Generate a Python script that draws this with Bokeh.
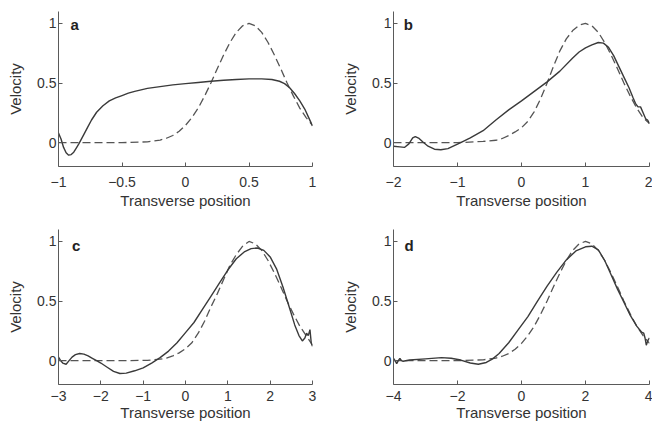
from bokeh.plotting import figure
from bokeh.layouts import column, row
from bokeh.models import Range1d, FixedTicker, Label
from bokeh.embed import file_html
from bokeh.resources import INLINE

# ---------------- data ----------------
y_ticks = [0, 0.5, 1]
y_tick_labels = ["0", "0.5", "1"]

xa_ticks = [-1, -0.5, 0, 0.5, 1]
xa_tick_labels = ["\u22121", "\u22120.5", "0", "0.5", "1"]
xb_ticks = [-2, -1, 0, 1, 2]
xb_tick_labels = ["\u22122", "\u22121", "0", "1", "2"]
xc_ticks = [-3, -2, -1, 0, 1, 2, 3]
xc_tick_labels = ["\u22123", "\u22122", "\u22121", "0", "1", "2", "3"]
xd_ticks = [-4, -2, 0, 2, 4]
xd_tick_labels = ["\u22124", "\u22122", "0", "2", "4"]

panel_letters = ["a", "b", "c", "d"]
x_label = "Transverse position"
y_label = "Velocity"

# panel a
a_solid_x = [-1.0, -0.98, -0.96, -0.94, -0.92, -0.90, -0.88, -0.86, -0.84, -0.82, -0.80, -0.77,
             -0.74, -0.70, -0.65, -0.60, -0.55, -0.50, -0.45, -0.40, -0.30, -0.20, -0.10, 0.0,
             0.1, 0.2, 0.3, 0.4, 0.5, 0.6, 0.68, 0.74, 0.78, 0.82, 0.86, 0.90, 0.94, 0.97, 1.0]
a_solid_y = [0.08, 0.03, -0.04, -0.085, -0.105, -0.10, -0.08, -0.045, -0.01, 0.03, 0.07, 0.13,
             0.19, 0.255, 0.31, 0.35, 0.375, 0.395, 0.415, 0.43, 0.455, 0.47, 0.485, 0.495,
             0.505, 0.515, 0.523, 0.53, 0.535, 0.535, 0.53, 0.515, 0.495, 0.46, 0.41, 0.35, 0.28, 0.21, 0.14]
a_dash_x = [-1.0, -0.5, -0.3, -0.2, -0.15, -0.1, -0.05, 0.0, 0.05, 0.1, 0.15, 0.2, 0.25, 0.3,
            0.35, 0.4, 0.45, 0.5, 0.55, 0.6, 0.65, 0.7, 0.75, 0.8, 0.85, 0.9, 0.95, 1.0]
a_dash_y = [0, 0, 0.007, 0.022, 0.037, 0.06, 0.095, 0.145, 0.21, 0.29, 0.39, 0.5, 0.62, 0.735,
            0.84, 0.925, 0.98, 1.0, 0.98, 0.925, 0.84, 0.735, 0.62, 0.5, 0.39, 0.29, 0.21, 0.145]

# panel b
b_solid_x = [-2.0, -1.9, -1.83, -1.76, -1.70, -1.66, -1.60, -1.54, -1.46, -1.36, -1.26, -1.15,
             -1.05, -0.95, -0.8, -0.6, -0.4, -0.2, 0.0, 0.2, 0.4, 0.6, 0.8, 0.9, 1.0, 1.1, 1.2,
             1.28, 1.36, 1.44, 1.52, 1.60, 1.68, 1.74, 1.78, 1.82, 1.86, 1.9, 1.94, 1.97, 2.0]
b_solid_y = [-0.03, -0.035, -0.04, -0.01, 0.04, 0.05, 0.035, 0.005, -0.03, -0.055, -0.06, -0.05,
             -0.025, 0.0, 0.04, 0.10, 0.19, 0.275, 0.35, 0.43, 0.51, 0.60, 0.71, 0.76, 0.795, 0.82, 0.84,
             0.835, 0.80, 0.73, 0.64, 0.55, 0.46, 0.38, 0.33, 0.30, 0.30, 0.25, 0.20, 0.19, 0.16]
b_dash_x = [-2.0, -1.0, -0.6, -0.4, -0.3, -0.2, -0.1, 0.0, 0.1, 0.2, 0.3, 0.4, 0.5, 0.6, 0.7,
            0.8, 0.9, 1.0, 1.1, 1.2, 1.3, 1.4, 1.5, 1.6, 1.7, 1.8, 1.9, 2.0]
b_dash_y = [0, 0, 0.01, 0.02, 0.035, 0.06, 0.09, 0.125, 0.18, 0.26, 0.37, 0.5, 0.64, 0.77, 0.87,
            0.94, 0.985, 1.0, 0.98, 0.925, 0.84, 0.735, 0.62, 0.5, 0.39, 0.29, 0.21, 0.16]

# panel c
c_solid_x = [-3.0, -2.95, -2.9, -2.82, -2.75, -2.68, -2.6, -2.5, -2.4, -2.3, -2.2, -2.1, -2.0,
             -1.85, -1.7, -1.55, -1.4, -1.2, -1.0, -0.8, -0.6, -0.4, -0.2, 0.0, 0.2, 0.4, 0.6,
             0.8, 1.0, 1.2, 1.4, 1.55, 1.7, 1.85, 2.0, 2.15, 2.3, 2.45, 2.58, 2.68, 2.76, 2.82,
             2.86, 2.9, 2.94, 2.97, 3.0]
c_solid_y = [0.03, 0.0, -0.02, -0.03, 0.0, 0.03, 0.05, 0.06, 0.055, 0.04, 0.02, 0.0, -0.02,
             -0.055, -0.09, -0.108, -0.105, -0.085, -0.06, -0.02, 0.025, 0.08, 0.15, 0.235, 0.32, 0.43, 0.54,
             0.65, 0.76, 0.855, 0.915, 0.94, 0.945, 0.925, 0.87, 0.77, 0.62, 0.45, 0.30, 0.21, 0.165, 0.19,
             0.23, 0.21, 0.26, 0.15, 0.12]
c_dash_x = [-3.0, -1.5, -0.9, -0.6, -0.45, -0.3, -0.15, 0.0, 0.15, 0.3, 0.45, 0.6, 0.75, 0.9,
            1.05, 1.2, 1.35, 1.5, 1.65, 1.8, 1.95, 2.1, 2.25, 2.4, 2.55, 2.7, 2.85, 3.0]
c_dash_y = [0, 0, 0.003, 0.012, 0.022, 0.04, 0.065, 0.1, 0.15, 0.23, 0.33, 0.45, 0.56, 0.68,
            0.8, 0.89, 0.96, 1.0, 0.98, 0.925, 0.84, 0.735, 0.62, 0.5, 0.39, 0.29, 0.21, 0.13]

# panel d
d_solid_x = [-4.0, -3.95, -3.9, -3.85, -3.8, -3.75, -3.7, -3.5, -3.0, -2.5, -2.2, -1.9, -1.6,
             -1.35, -1.1, -0.9, -0.7, -0.4, -0.1, 0.2, 0.5, 0.8, 1.1, 1.4, 1.7, 2.0, 2.2, 2.4,
             2.6, 2.8, 3.0, 3.2, 3.4, 3.6, 3.75, 3.82, 3.86, 3.9, 3.95, 4.0]
d_solid_y = [0.02, 0.0, -0.025, 0.0, 0.02, 0.0, -0.005, 0.005, 0.015, 0.025, 0.02, 0.005, -0.02,
             -0.03, -0.015, 0.015, 0.06, 0.15, 0.26, 0.37, 0.50, 0.625, 0.74, 0.845, 0.92, 0.955, 0.96, 0.93,
             0.84, 0.72, 0.60, 0.49, 0.38, 0.29, 0.24, 0.23, 0.19, 0.13, 0.17, 0.19]
d_dash_x = [-4.0, -2.0, -1.2, -0.8, -0.6, -0.4, -0.2, 0.0, 0.2, 0.4, 0.6, 0.8, 1.0, 1.2, 1.4,
            1.6, 1.8, 2.0, 2.2, 2.4, 2.6, 2.8, 3.0, 3.2, 3.4, 3.6, 3.8, 4.0]
d_dash_y = [0, 0, 0.007, 0.022, 0.037, 0.06, 0.095, 0.145, 0.21, 0.29, 0.39, 0.5, 0.62, 0.735,
            0.84, 0.925, 0.98, 1.0, 0.98, 0.925, 0.84, 0.735, 0.62, 0.5, 0.39, 0.29, 0.21, 0.145]

# ---------------- styling ----------------
FONT = "Liberation Sans"
TEXT_COLOR = "#333333"
AXIS_COLOR = "#5a5a5a"
SOLID_COLOR = "#3a3a3a"
DASH_COLOR = "#555555"


def make_panel(xr, xt, xl, sx, sy, dx, dy, letter, letter_x, letter_y, fw,
               left, right, top, bottom, tick_standoff, label_standoff):
    p = figure(frame_width=fw, frame_height=155,
               x_range=Range1d(*xr), y_range=Range1d(-0.2, 1.1),
               output_backend="svg", toolbar_location=None,
               min_border_left=left, min_border_right=right,
               min_border_top=top, min_border_bottom=bottom)
    p.outline_line_color = None
    p.grid.visible = False
    p.background_fill_color = "white"
    p.border_fill_color = "white"

    p.xaxis.ticker = FixedTicker(ticks=xt)
    p.xaxis.major_label_overrides = dict(zip(xt, xl))
    p.yaxis.ticker = FixedTicker(ticks=y_ticks)
    p.yaxis.major_label_overrides = dict(zip(y_ticks, y_tick_labels))
    p.xaxis.axis_label = x_label
    p.yaxis.axis_label = y_label

    for ax in (p.xaxis, p.yaxis):
        ax.axis_line_color = AXIS_COLOR
        ax.axis_line_width = 1
        ax.major_tick_line_color = AXIS_COLOR
        ax.major_tick_in = 4
        ax.major_tick_out = 0
        ax.minor_tick_line_color = None
        ax.major_label_text_font = FONT
        ax.major_label_text_font_size = "14px"
        ax.major_label_text_color = TEXT_COLOR
        ax.axis_label_text_font = FONT
        ax.axis_label_text_font_size = "15px"
        ax.axis_label_text_font_style = "normal"
        ax.axis_label_text_color = TEXT_COLOR
    p.xaxis.major_label_standoff = tick_standoff
    p.xaxis.axis_label_standoff = label_standoff
    p.yaxis.major_label_standoff = 2
    p.yaxis.axis_label_standoff = 10

    p.line(dx, dy, line_color=DASH_COLOR, line_width=1.3, line_dash="8 4")
    p.line(sx, sy, line_color=SOLID_COLOR, line_width=1.4)

    p.add_layout(Label(x=letter_x, y=letter_y, text=letter, text_font=FONT,
                       text_font_size="15px", text_font_style="bold",
                       text_color="#222222", text_baseline="alphabetic"))
    return p


# top row: frames at y 11..166 ; bottom row: frames at y 229..384
# left column frames x 58..312 ; right column frames x 393..649
pa = make_panel((-1, 1), xa_ticks, xa_tick_labels, a_solid_x, a_solid_y, a_dash_x, a_dash_y,
                panel_letters[0], -0.905, 0.99, 254, 58, 21, 11, 59, 10, 2)
pb = make_panel((-2, 2), xb_ticks, xb_tick_labels, b_solid_x, b_solid_y, b_dash_x, b_dash_y,
                panel_letters[1], -1.84, 0.99, 256, 60, 3, 11, 59, 10, 2)
pc = make_panel((-3, 3), xc_ticks, xc_tick_labels, c_solid_x, c_solid_y, c_dash_x, c_dash_y,
                panel_letters[2], -2.68, 0.97, 254, 58, 21, 4, 44, 6, 0)
pd = make_panel((-4, 4), xd_ticks, xd_tick_labels, d_solid_x, d_solid_y, d_dash_x, d_dash_y,
                panel_letters[3], -3.66, 0.97, 256, 60, 3, 4, 44, 6, 0)

layout = column(row(pa, pb), row(pc, pd))

open("out.html", "w").write(file_html(layout, INLINE))
